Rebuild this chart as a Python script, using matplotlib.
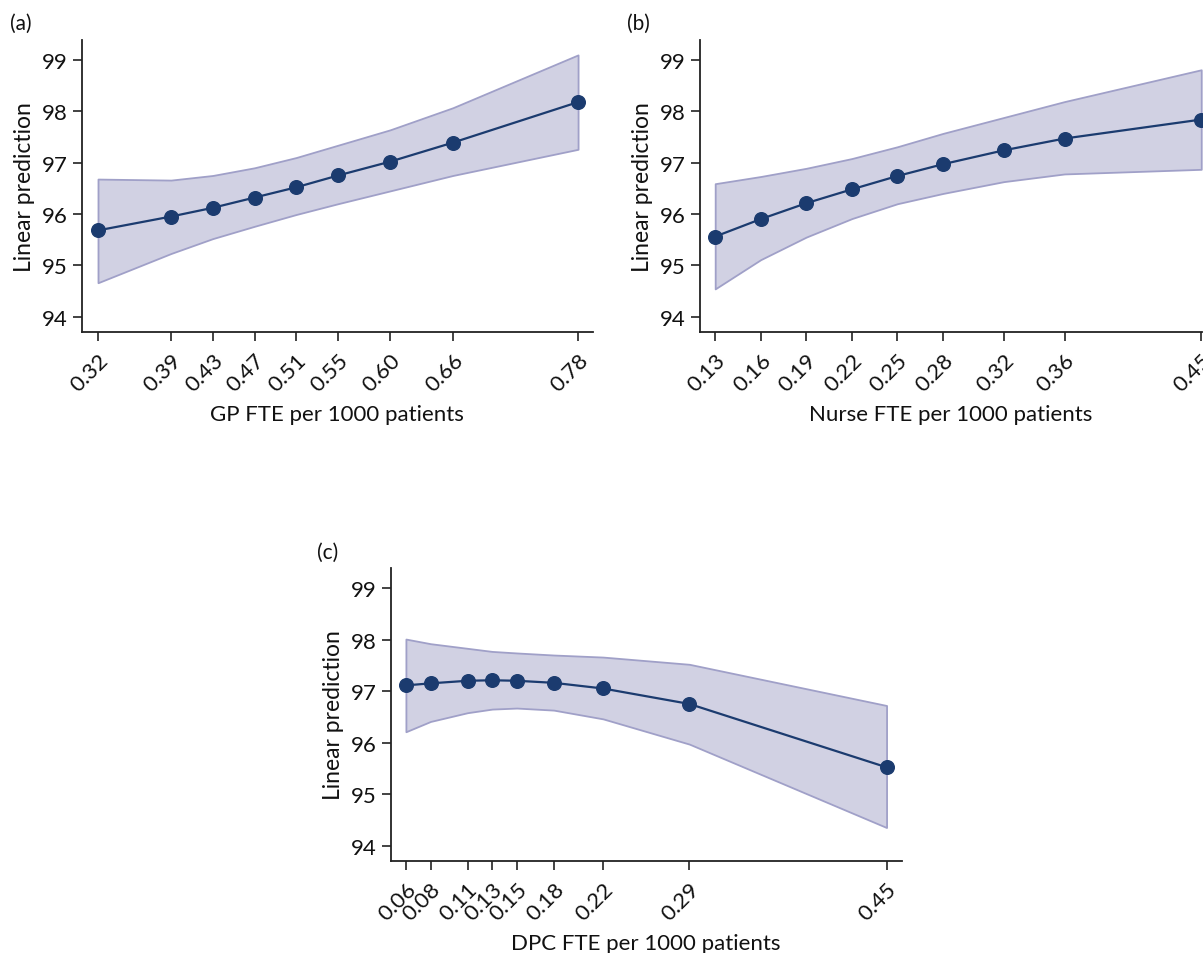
import matplotlib
matplotlib.use("Agg")
import matplotlib.pyplot as plt
from matplotlib.transforms import ScaledTranslation

plt.rcParams['font.family'] = ['Lato', 'DejaVu Sans']

# Panel (a): GP FTE
gp_x = [0.32, 0.39, 0.43, 0.47, 0.51, 0.55, 0.60, 0.66, 0.78]
gp_labels = ["0.32", "0.39", "0.43", "0.47", "0.51", "0.55", "0.60", "0.66", "0.78"]
gp_pred = [95.68, 95.95, 96.12, 96.32, 96.52, 96.75, 97.02, 97.39, 98.18]
gp_upper = [96.68, 96.66, 96.75, 96.90, 97.10, 97.34, 97.64, 98.07, 99.10]
gp_lower = [94.66, 95.23, 95.52, 95.76, 95.99, 96.20, 96.45, 96.75, 97.26]

# Panel (b): Nurse FTE
nurse_x = [0.13, 0.16, 0.19, 0.22, 0.25, 0.28, 0.32, 0.36, 0.45]
nurse_labels = ["0.13", "0.16", "0.19", "0.22", "0.25", "0.28", "0.32", "0.36", "0.45"]
nurse_pred = [95.56, 95.90, 96.21, 96.48, 96.74, 96.97, 97.24, 97.47, 97.84]
nurse_upper = [96.59, 96.73, 96.89, 97.08, 97.31, 97.57, 97.88, 98.19, 98.81]
nurse_lower = [94.54, 95.11, 95.55, 95.91, 96.20, 96.40, 96.63, 96.78, 96.87]

# Panel (c): DPC FTE
dpc_x = [0.06, 0.08, 0.11, 0.13, 0.15, 0.18, 0.22, 0.29, 0.45]
dpc_labels = ["0.06", "0.08", "0.11", "0.13", "0.15", "0.18", "0.22", "0.29", "0.45"]
dpc_pred = [97.11, 97.15, 97.20, 97.21, 97.20, 97.16, 97.05, 96.75, 95.52]
dpc_upper = [98.01, 97.92, 97.83, 97.77, 97.74, 97.70, 97.66, 97.52, 96.72]
dpc_lower = [96.21, 96.41, 96.58, 96.65, 96.67, 96.63, 96.46, 95.97, 94.35]

y_ticks = [94, 95, 96, 97, 98, 99]

W, H = 1203, 954
fig = plt.figure(figsize=(W / 100, H / 100), dpi=100)

LINE = '#1b3b6f'
FILL = '#d1d1e3'
EDGE = '#a0a0c8'
TXT = '#111111'


def add_panel(px_left, px_right, px_top, px_bottom, x, labels, pred, upper, lower,
              xlim, xlabel, tag, tag_xy):
    ax = fig.add_axes([px_left / W, 1 - px_bottom / H,
                       (px_right - px_left) / W, (px_bottom - px_top) / H])
    ax.fill_between(x, lower, upper, facecolor=FILL, edgecolor=EDGE, linewidth=1.3, zorder=1)
    ax.plot(x, pred, color=LINE, linewidth=1.6, marker='o', markersize=9.8,
            zorder=3, clip_on=False)
    ax.set_xlim(*xlim)
    ax.set_ylim(93.70, 99.39)
    ax.set_yticks(y_ticks)
    ax.set_yticklabels([str(t) for t in y_ticks], fontsize=16, color=TXT)
    ax.set_xticks(x)
    ax.set_xticklabels(labels, fontsize=16, rotation=45, ha='right', va='top',
                       rotation_mode='anchor', color=TXT)
    off = ScaledTranslation(6.5 / 72, 0, fig.dpi_scale_trans)
    for lab in ax.get_xticklabels():
        lab.set_transform(lab.get_transform() + off)
    ax.spines['top'].set_visible(False)
    ax.spines['right'].set_visible(False)
    for s in ('left', 'bottom'):
        ax.spines[s].set_linewidth(1.3)
        ax.spines[s].set_color('#222222')
    ax.tick_params(axis='both', length=6.5, width=1.2, color='#222222')
    ax.tick_params(axis='x', pad=6)
    ax.tick_params(axis='y', pad=3.5)
    ax.set_ylabel('Linear prediction', fontsize=16.5, labelpad=5, color=TXT)
    ax.set_xlabel(xlabel, fontsize=16, labelpad=7, color=TXT)
    fig.text(tag_xy[0] / W, 1 - tag_xy[1] / H, tag, fontsize=15, ha='left', va='center',
             color=TXT)
    return ax


add_panel(81.5, 593, 41, 333, gp_x, gp_labels, gp_pred, gp_upper, gp_lower,
          (0.3042, 0.7943), 'GP FTE per 1000 patients', '(a)', (10, 24))
add_panel(700, 1202, 41, 333, nurse_x, nurse_labels, nurse_pred, nurse_upper, nurse_lower,
          (0.12, 0.4505), 'Nurse FTE per 1000 patients', '(b)', (627, 24))
add_panel(390.5, 901.6, 569, 862, dpc_x, dpc_labels, dpc_pred, dpc_upper, dpc_lower,
          (0.0475, 0.4622), 'DPC FTE per 1000 patients', '(c)', (317, 553))

fig.savefig('out.png', dpi=100)
